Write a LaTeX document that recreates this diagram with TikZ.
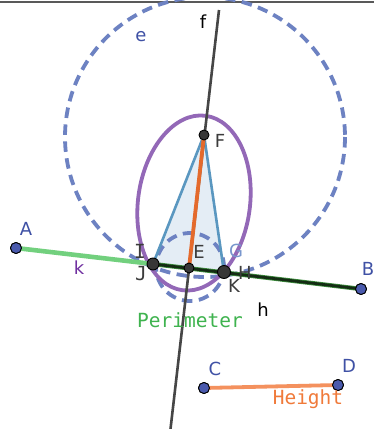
\documentclass[tikz,border=0pt]{standalone}
\usepackage{fontspec}
\setmainfont{DejaVu Sans}
\setmonofont{DejaVu Sans Mono}
\definecolor{lblblue}{RGB}{63,81,165}
\definecolor{dashblue}{RGB}{109,130,194}
\definecolor{ptfill}{RGB}{74,90,173}
\definecolor{ptdk}{RGB}{55,55,55}
\definecolor{lblgray}{RGB}{60,60,60}
\definecolor{ellpurple}{RGB}{147,104,183}
\definecolor{trifill}{RGB}{228,237,245}
\definecolor{triedge}{RGB}{90,151,192}
\definecolor{fline}{RGB}{70,70,70}
\definecolor{altor}{RGB}{228,106,44}
\definecolor{kgreen}{RGB}{114,208,126}
\definecolor{hgreen}{RGB}{60,140,60}
\definecolor{hdark}{RGB}{20,45,20}
\definecolor{cdor}{RGB}{244,145,94}
\definecolor{kpurple}{RGB}{112,48,160}
\definecolor{gblue}{RGB}{120,150,205}
\definecolor{perimgreen}{RGB}{63,179,79}
\definecolor{heightor}{RGB}{240,122,58}
\begin{document}
\begin{tikzpicture}[x=1pt,y=-1pt,
  lbl/.style={font=\fontsize{18}{20}\selectfont,inner sep=0pt},
  mlbl/.style={font=\ttfamily\fontsize{19.5}{22}\selectfont,inner sep=0pt},
  dashc/.style={draw=dashblue,line width=3.8pt,dash pattern=on 10.5pt off 6.5pt},
  ptblue/.style={circle,fill=ptfill,draw=black,line width=0.9pt,inner sep=0pt,minimum size=11pt},
  ptdark/.style={circle,fill=ptdk,draw=black,line width=0.9pt,inner sep=0pt,minimum size=10pt}]
\useasboundingbox (0,0) rectangle (374,429);
\fill[white] (0,0) rectangle (374,429);
% top border
\coordinate (tl) at (0,2);
\coordinate (tr) at (374,2);
\draw[line width=1.6pt,gray!70!black] (tl) -- (tr);
% points coordinates
\coordinate (Fc) at (204,135);
\coordinate (Jc) at (153,264);
\coordinate (Ec) at (189,268);
\coordinate (Kc) at (224,272);
% triangle fill
\fill[trifill] (Fc) -- (Jc) -- (Kc) -- cycle;
% big dashed circle e
\coordinate (ce) at (205,137);
\draw[dashc] (ce) circle [radius=140];
% small dashed circle
\coordinate (cs) at (190,267);
\draw[dashc] (cs) circle [radius=34];
% purple ellipse
\coordinate (cel) at (194,203);
\begin{scope}[shift={(cel)},rotate=-7.5]
\draw[line width=3.8pt,draw=ellpurple] (0,0) ellipse [x radius=56, y radius=88];
\end{scope}
% triangle edges
\draw[line width=2.6pt,triedge,line join=round] (Jc) -- (Fc) -- (Kc);
% line f
\coordinate (ftop) at (219,10);
\coordinate (fbot) at (170.5,429);
\draw[line width=2.6pt,fline] (ftop) -- (fbot);
% altitude
\draw[line width=3.8pt,altor] (Fc) -- (Ec);
% A, B segments
\node[ptblue] (A) at (16,248) {};
\node[ptblue] (B) at (361,289) {};
\draw[line width=4.6pt,kgreen] (A.center) -- (Jc);
\draw[line width=4.4pt,hgreen] (Jc) -- (B.center);
\draw[line width=2.8pt,hdark] (Jc) -- (B.center);
\node[ptblue] at (16,248) {};
\node[ptblue] at (361,289) {};
% C D
\node[ptblue] (C) at (204,388) {};
\node[ptblue] (D) at (338,385) {};
\draw[line width=3.8pt,cdor] (C.center) -- (D.center);
\node[ptblue] at (204,388) {};
\node[ptblue] at (338,385) {};
% dark points
\node[ptdark] (F) at (Fc) {};
\node[ptdark,minimum size=12pt] (J) at (Jc) {};
\node[ptdark] (E) at (Ec) {};
\node[ptdark,minimum size=13pt] (K) at (Kc) {};
% labels
\node[lbl,text=lblblue] (le) at (141,37) {e};
\node[lbl,text=black] (lf) at (203,22) {f};
\node[lbl,text=lblgray] (lF) at (220,141) {F};
\node[lbl,text=lblblue] (lA) at (26,229) {A};
\node[lbl,text=kpurple] (lk) at (79,268) {k};
\node[mlbl,text=lblgray] (lI) at (140,251) {I};
\node[mlbl,text=lblgray] (lJ) at (141,274) {J};
\node[lbl,text=lblgray] (lE) at (199,252) {E};
\node[lbl,text=gblue] (lG) at (236,251) {G};
\node[lbl,text=lblgray] (lH) at (245,273) {H};
\node[lbl,text=lblgray] (lK) at (234,286) {K};
\node[lbl,text=lblblue] (lB) at (368,269) {B};
\node[lbl,text=black] (lh) at (263,310) {h};
\node[mlbl,text=perimgreen] (lP) at (190,320) {Perimeter};
\node[lbl,text=lblblue] (lC) at (215,369) {C};
\node[lbl,text=lblblue] (lD) at (349,366) {D};
\node[mlbl,text=heightor] (lHt) at (308,399) {Height};
\end{tikzpicture}
\end{document}
